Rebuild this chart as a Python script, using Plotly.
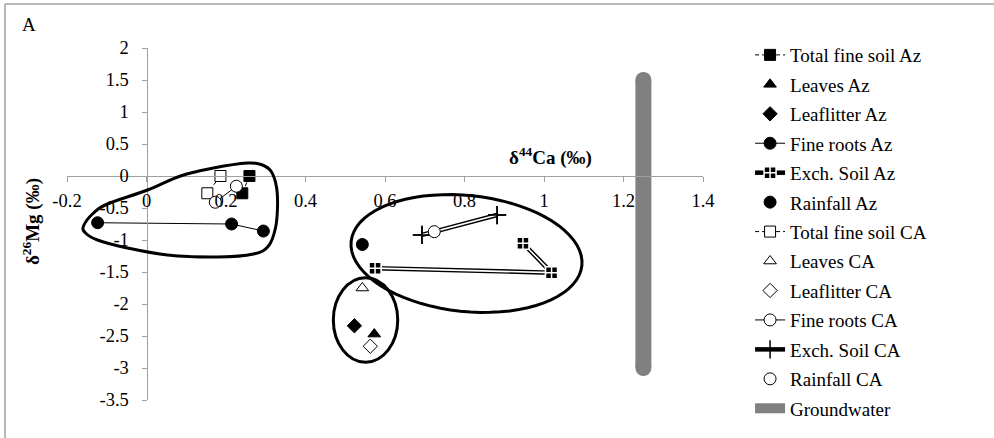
import math
import plotly.graph_objects as go

# δ44Ca (x) / δ26Mg (y), ‰
soil_az_x = [0.259, 0.241]
soil_az_y = [0.0, -0.27]
leaves_az_x = [0.573]
leaves_az_y = [-2.47]
litter_az_x = [0.523]
litter_az_y = [-2.34]
roots_az_x = [-0.123, 0.214, 0.294]
roots_az_y = [-0.73, -0.75, -0.86]
exch_az_x = [0.575, 1.019, 0.947]
exch_az_y = [-1.44, -1.51, -1.05]
rain_az_x = [0.543]
rain_az_y = [-1.07]
soil_ca_x = [0.186, 0.153]
soil_ca_y = [0.0, -0.27]
leaves_ca_x = [0.543]
leaves_ca_y = [-1.75]
litter_ca_x = [0.563]
litter_ca_y = [-2.66]
roots_ca_x = [0.226, 0.173]
roots_ca_y = [-0.16, -0.41]
exch_ca_x = [0.693, 0.882]
exch_ca_y = [-0.92, -0.61]
rain_ca_x = [0.724]
rain_ca_y = [-0.87]
ground_x = [1.25, 1.25]
ground_y = [1.5, -3.0]

x_ticks = [-0.2, 0, 0.2, 0.4, 0.6, 0.8, 1.0, 1.2, 1.4]
x_tick_labels = ['-0.2', '0', '0.2', '0.4', '0.6', '0.8', '1', '1.2', '1.4']
y_ticks = [2, 1.5, 1, 0.5, 0, -0.5, -1, -1.5, -2, -2.5, -3, -3.5]
y_tick_labels = ['2', '1.5', '1', '0.5', '0', '-0.5', '-1', '-1.5', '-2', '-2.5', '-3', '-3.5']

FONT = 'Liberation Serif'
BLACK = 'black'
GREY = '#808080'
DASH = '4px,3px'

fig = go.Figure()


def add(x, y, name, symbol, fill, mode='markers', dash=None, size=11):
    fig.add_trace(go.Scatter(
        x=x, y=y, name=name, mode=mode, legendgroup=name,
        marker=dict(symbol=symbol, color=fill, size=size, line=dict(color=BLACK, width=1)),
        line=dict(color=BLACK, width=1, dash=dash),
    ))


def add_double(x, y, name, symbol, fill, mline, size):
    # Excel-style double line: thick black line, thin white line on top, then markers
    fig.add_trace(go.Scatter(
        x=x, y=y, name=name, mode='lines+markers', legendgroup=name,
        line=dict(color=BLACK, width=4.5),
        marker=dict(symbol=symbol, color=fill, size=size, line=dict(color=mline, width=1.5)),
    ))
    fig.add_trace(go.Scatter(x=x, y=y, mode='lines', showlegend=False, legendgroup=name,
                             line=dict(color='white', width=1.6), hoverinfo='skip'))
    fig.add_trace(go.Scatter(x=x, y=y, mode='markers', showlegend=False, legendgroup=name,
                             marker=dict(symbol=symbol, color=fill, size=size,
                                         line=dict(color=mline, width=1.5))))


add(soil_az_x, soil_az_y, 'Total fine soil Az', 'square', BLACK, 'lines+markers', DASH)
add(leaves_az_x, leaves_az_y, 'Leaves Az', 'triangle-up', BLACK)
add(litter_az_x, litter_az_y, 'Leaflitter Az', 'diamond', BLACK)
add(roots_az_x, roots_az_y, 'Fine roots Az', 'circle', BLACK, 'lines+markers', size=12)
add_double(exch_az_x, exch_az_y, 'Exch. Soil Az', 'square-cross', BLACK, 'white', 12)
add(rain_az_x, rain_az_y, 'Rainfall Az', 'circle', BLACK, size=12)
add(soil_ca_x, soil_ca_y, 'Total fine soil CA', 'square', 'white', 'lines+markers', DASH)
add(leaves_ca_x, leaves_ca_y, 'Leaves CA', 'triangle-up', 'white')
add(litter_ca_x, litter_ca_y, 'Leaflitter CA', 'diamond', 'white')
add(roots_ca_x, roots_ca_y, 'Fine roots CA', 'circle', 'white', 'lines+markers', size=12)
add_double(exch_ca_x, exch_ca_y, 'Exch. Soil CA', 'cross-thin', BLACK, BLACK, 13)
add(rain_ca_x, rain_ca_y, 'Rainfall CA', 'circle', 'white', size=12)
fig.add_trace(go.Scatter(
    x=ground_x, y=ground_y, name='Groundwater', mode='lines', legendgroup='Groundwater',
    line=dict(color=GREY, width=16),
))
# round caps for the groundwater bar
fig.add_trace(go.Scatter(
    x=ground_x, y=ground_y, mode='markers', showlegend=False, legendgroup='Groundwater',
    marker=dict(symbol='circle', color=GREY, size=16, line=dict(width=0)),
))

# hand-drawn grouping loops
def px_to_data(px, py):
    return (px - 146) / 397.5, (176 - py) / 64


def smooth_closed(pts):
    n = len(pts)
    d = 'M %.4f,%.4f' % pts[0]
    for i in range(n):
        p0, p1, p2, p3 = pts[i - 1], pts[i], pts[(i + 1) % n], pts[(i + 2) % n]
        c1 = (p1[0] + (p2[0] - p0[0]) / 6, p1[1] + (p2[1] - p0[1]) / 6)
        c2 = (p2[0] - (p3[0] - p1[0]) / 6, p2[1] - (p3[1] - p1[1]) / 6)
        d += ' C %.4f,%.4f %.4f,%.4f %.4f,%.4f' % (c1 + c2 + p2)
    return d + ' Z'


loop_px = [(83, 226), (93, 213), (107, 204), (147, 190), (180, 176), (213, 168), (247, 163),
           (262, 165), (271, 172), (276, 187), (277, 207), (275, 228), (268, 246), (253, 254),
           (217, 257), (167, 255), (127, 248), (97, 240), (85, 233)]
loop_path = smooth_closed([px_to_data(*p) for p in loop_px])

ell = []
th = math.radians(6)
for k in range(73):
    t = 2 * math.pi * k / 72
    ex = 466 + 116 * math.cos(t) * math.cos(th) - 58 * math.sin(t) * math.sin(th)
    ey = 253.5 + 116 * math.cos(t) * math.sin(th) + 58 * math.sin(t) * math.cos(th)
    ell.append(px_to_data(ex, ey))
ell_path = 'M ' + ' L '.join('%.4f,%.4f' % p for p in ell) + ' Z'

loop_style = dict(color=BLACK, width=3)
shapes = [
    dict(type='path', xref='x', yref='y', path=loop_path, line=loop_style),
    dict(type='path', xref='x', yref='y', path=ell_path, line=loop_style),
    dict(type='circle', xref='x', yref='y', x0=0.47, x1=0.632, y0=-2.91, y1=-1.59, line=loop_style),
    # chart frame (top and left edges only)
    dict(type='line', xref='paper', yref='paper', x0=-0.0975, x1=1.46, y0=1.125, y1=1.125,
         line=dict(color='#a0a0a0', width=1.5)),
    dict(type='line', xref='paper', yref='paper', x0=-0.0975, x1=-0.0975, y0=-0.12, y1=1.125,
         line=dict(color='#a0a0a0', width=1.5)),
]

axis_common = dict(showgrid=False, zeroline=False, showline=True, linecolor='#a0a0a0', linewidth=1,
                   ticks='outside', ticklen=5, tickcolor='#a0a0a0', anchor='free',
                   tickfont=dict(family=FONT, size=18.5, color=BLACK))

fig.update_layout(
    width=994, height=438,
    margin=dict(l=67, r=291, t=48, b=38),
    paper_bgcolor='white', plot_bgcolor='white',
    font=dict(family=FONT, color=BLACK),
    xaxis=dict(range=[-0.2, 1.4], tickvals=x_ticks, ticktext=x_tick_labels,
               position=3.5 / 5.5, ticklabelstandoff=3, **axis_common),
    yaxis=dict(range=[-3.5, 2], tickvals=y_ticks, ticktext=y_tick_labels,
               position=0.2 / 1.6, ticklabelstandoff=9, **axis_common),
    shapes=shapes,
    legend=dict(x=1.074, xanchor='left', y=1.034, yanchor='top', maxheight=430,
                traceorder='grouped', tracegroupgap=1.75,
                font=dict(family=FONT, size=19, color=BLACK), bgcolor='rgba(0,0,0,0)'),
    annotations=[
        dict(text='A', xref='paper', yref='paper', x=(29 - 67) / 636, y=(400 - 24) / 352,
             xanchor='center', yanchor='middle', showarrow=False, font=dict(family=FONT, size=19)),
        dict(text='<b>δ<sup>44</sup>Ca (‰)</b>', xref='paper', yref='paper',
             x=(550 - 67) / 636, y=(400 - 156) / 352, xanchor='center', yanchor='middle',
             showarrow=False, font=dict(family=FONT, size=19)),
        dict(text='<b>δ<sup>26</sup>Mg (‰)</b>', xref='paper', yref='paper', textangle=-90,
             x=(32 - 67) / 636, y=(400 - 222) / 352, xanchor='center', yanchor='middle',
             showarrow=False, font=dict(family=FONT, size=19)),
    ],
)

fig.write_html('out.html', config={'displayModeBar': False},
               post_script="document.body.style.margin = '0';")
